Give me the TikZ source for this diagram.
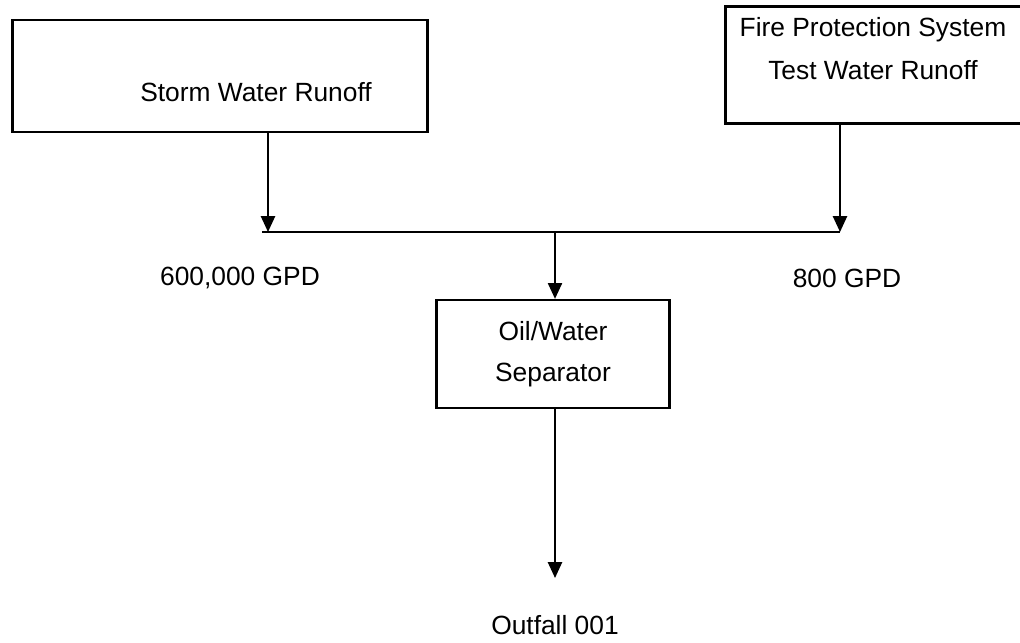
\documentclass[tikz,border=0pt]{standalone}
\usepackage{fontspec}
\setmainfont{Liberation Sans}
\usetikzlibrary{positioning,arrows.meta}

\begin{document}
\begin{tikzpicture}[x=0.02cm, y=-0.02cm,
      flowbox/.style={draw, line width=1.3pt, inner sep=0pt},
      flowtxt/.style={font=\fontsize{15}{23}\selectfont, align=center},
      arr/.style={-{Triangle[length=9pt, width=8pt]}, line width=1.1pt}]

    \useasboundingbox (0,0) rectangle (1020,642);
    \clip (0,0) rectangle (1020,642);

    \node[flowbox, minimum width=8.3cm, minimum height=2.24cm] (storm) at (220,76) {};
    \node[flowtxt] (stormtxt) at (256,92) {Storm Water Runoff};

    \node[flowbox, minimum width=6.1cm, minimum height=2.34cm] (fire) at (878,65) {};
    \node[flowtxt, font=\fontsize{15}{24.5}\selectfont] (firetxt) at (873,49)
      {Fire Protection System\\Test Water Runoff};

    \node[flowbox, flowtxt, minimum width=4.66cm, minimum height=2.16cm] (sep) at (553,354)
      {Oil/Water\\Separator};

    \coordinate (jl) at (268,232);
    \coordinate (jr) at (840,232);
    \coordinate (jm) at (555,232);
    \coordinate (out) at (555,578);

    \draw[line width=1.1pt] (262,232) -- (jr);
    \draw[arr] (storm.south -| jl) -- (jl);
    \draw[arr] (fire.south -| jr) -- (jr);
    \draw[arr] (jm) -- (sep.north -| jm);
    \draw[arr] (sep.south -| out) -- (out);

    \node[flowtxt] (q1) at (240,278) {600,000 GPD};
    \node[flowtxt] (q2) at (847,278) {800 GPD};
    \node[flowtxt] (outfall) at (555,625) {Outfall 001};
  \end{tikzpicture}
\end{document}
